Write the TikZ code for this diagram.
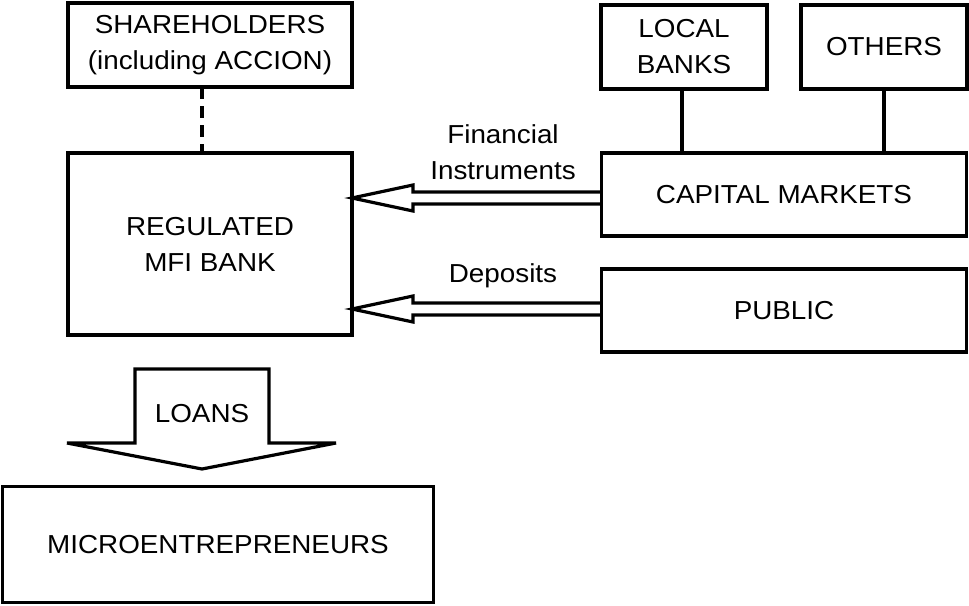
\documentclass[tikz,border=0pt]{standalone}
\usepackage{fontspec}
\setmainfont{Liberation Sans}[FakeStretch=1.07]
\begin{document}
\begin{tikzpicture}[x=1pt,y=-1pt,
  every node/.style={font=\fontsize{26}{36}\selectfont},
  box/.style={draw, line width=3.2pt, align=center, inner sep=0pt, outer sep=0pt},
  conn/.style={line width=3.2pt},
  hollow/.style={line width=3.2pt, line join=miter}]
\useasboundingbox (0,0) rectangle (969,605);
\node[box, minimum width=284pt, minimum height=84pt] (sh) at (210,45) {SHAREHOLDERS\\(including ACCION)};
\node[box, minimum width=166pt, minimum height=84pt] (lb) at (684,47) {LOCAL\\BANKS};
\node[box, minimum width=166pt, minimum height=84pt] (ot) at (884,47) {OTHERS};
\node[box, minimum width=365pt, minimum height=83pt] (cm) at (784,194.5) {CAPITAL MARKETS};
\node[box, minimum width=365pt, minimum height=83pt] (pu) at (784,310.5) {PUBLIC};
\node[box, minimum width=284pt, minimum height=182pt] (mfi) at (210,244) {REGULATED\\MFI BANK};
\node[box, minimum width=431pt, minimum height=116pt] (mi) at (218,544.5) {MICROENTREPRENEURS};
% connectors
\coordinate (dx) at (202,0);
\draw[conn, dash pattern=on 12pt off 7pt] (sh.south -| dx) -- (mfi.north -| dx);
\coordinate (lx) at (682,0);
\draw[conn] (lb.south -| lx) -- (cm.north -| lx);
\draw[conn] (ot.south) -- (ot.south |- cm.north);
% hollow arrows
\coordinate (fa) at (mfi.east |- 0,198);
\coordinate (da) at (mfi.east |- 0,309);
\draw[hollow] (cm.west |- 0,192) -- (413,192) -- (413,185) -- (fa) -- (413,211) -- (413,204) -- (cm.west |- 0,204);
\draw[hollow] (pu.west |- 0,303) -- (413,303) -- (413,296) -- (da) -- (413,322) -- (413,315) -- (pu.west |- 0,315);
\node[align=center, inner sep=0pt] (fi) at (503,152) {Financial\\Instruments};
\node[inner sep=0pt] (dep) at (503,276) {Deposits};
% loans arrow
\draw[hollow] (135,443) -- (135,369) -- (269,369) -- (269,443) -- (336,443) -- (202,469) -- (67,443) -- cycle;
\node[inner sep=0pt] (loans) at (202,414) {LOANS};
\end{tikzpicture}
\end{document}
